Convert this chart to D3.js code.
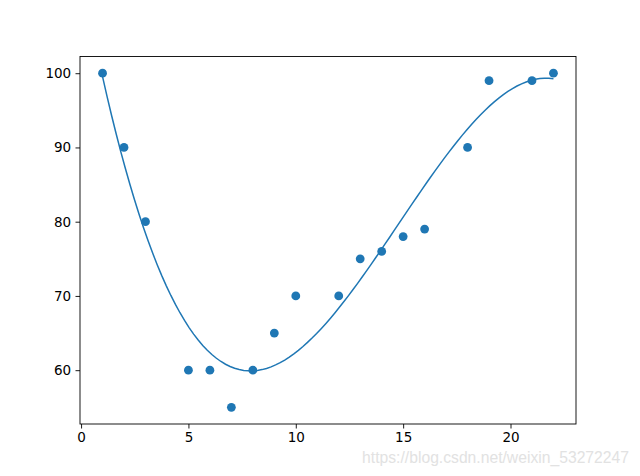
<!DOCTYPE html>
<html><head><meta charset="utf-8">
<script src="https://cdn.jsdelivr.net/npm/d3@7"></script>
<style>body{margin:0;background:#fff;}svg{display:block;}</style>
</head><body>
<script>
const xValues = [1,2,3,5,6,7,8,9,10,12,13,14,15,16,18,19,21,22];
const yValues = [100,90,80,60,60,55,60,65,70,70,75,76,78,79,90,99,99,100];
const xTicks = [0,5,10,15,20];
const yTicks = [60,70,80,90,100];
const polyDegree = 3;

// least-squares polynomial fit (as numpy.polyfit) of the scatter data
function polyfit(xs, ys, deg) {
  const n = deg + 1;
  const A = Array.from({length:n}, () => new Array(n + 1).fill(0));
  for (let r = 0; r < n; r++) {
    for (let c = 0; c < n; c++) A[r][c] = d3.sum(xs, x => Math.pow(x, r + c));
    A[r][n] = d3.sum(xs, (x, i) => ys[i] * Math.pow(x, r));
  }
  for (let i = 0; i < n; i++) {
    let p = i;
    for (let k = i + 1; k < n; k++) if (Math.abs(A[k][i]) > Math.abs(A[p][i])) p = k;
    [A[i], A[p]] = [A[p], A[i]];
    for (let k = 0; k < n; k++) if (k !== i) {
      const f = A[k][i] / A[i][i];
      for (let j = i; j <= n; j++) A[k][j] -= f * A[i][j];
    }
  }
  return A.map((row, i) => row[n] / row[i]);
}
const coef = polyfit(xValues, yValues, polyDegree);
const model = x => coef.reduce((s, c, i) => s + c * Math.pow(x, i), 0);
const lineX = d3.range(100).map(i => 1 + i * (22 - 1) / 99);
const lineY = lineX.map(model);

const W = 640, H = 476;
const mLeft = 80, mRight = 576, mTop = 56.5, mBottom = 424;
const svg = d3.select("body").append("svg").attr("width", W).attr("height", H);

const xMin = d3.min(xValues), xMax = d3.max(xValues);
const xPad = (xMax - xMin) * 0.05;
const yAll = yValues.concat(lineY);
const yMin = d3.min(yAll), yMax = d3.max(yAll);
const yPad = (yMax - yMin) * 0.05;
const x = d3.scaleLinear().domain([xMin - xPad, xMax + xPad]).range([mLeft, mRight]);
const y = d3.scaleLinear().domain([yMin - yPad, yMax + yPad]).range([mBottom, mTop]);

const font = "DejaVu Sans, sans-serif";

svg.append("path")
  .datum(lineX.map((v, i) => [v, lineY[i]]))
  .attr("fill", "none").attr("stroke", "#1f77b4").attr("stroke-width", 1.5)
  .attr("d", d3.line().x(d => x(d[0])).y(d => y(d[1])));

svg.append("g").selectAll("circle").data(xValues).join("circle")
  .attr("cx", d => x(d)).attr("cy", (d, i) => y(yValues[i]))
  .attr("r", 4.4).attr("fill", "#1f77b4");

const xAxis = svg.append("g").attr("transform", `translate(0,${mBottom})`)
  .call(d3.axisBottom(x).tickValues(xTicks).tickSize(4.5).tickPadding(4.3).tickFormat(d3.format("d")));
const yAxis = svg.append("g").attr("transform", `translate(${mLeft},0)`)
  .call(d3.axisLeft(y).tickValues(yTicks).tickSize(4.5).tickPadding(4.3).tickFormat(d3.format("d")));
[xAxis, yAxis].forEach(a => {
  a.select(".domain").remove();
  a.selectAll("line").attr("stroke", "#000").attr("stroke-width", 0.9);
  a.selectAll("text").attr("font-family", font).attr("font-size", 13.5).attr("fill", "#000");
});

svg.append("rect").attr("x", mLeft).attr("y", mTop)
  .attr("width", mRight - mLeft).attr("height", mBottom - mTop)
  .attr("fill", "none").attr("stroke", "#000").attr("stroke-width", 0.9);

svg.append("text").attr("x", 629).attr("y", 463).attr("text-anchor", "end")
  .attr("font-family", "Liberation Sans, Arial, sans-serif").attr("font-size", 15.7)
  .attr("fill", "#e2e2e2").text("https://blog.csdn.net/weixin_53272247");
</script>
</body></html>
